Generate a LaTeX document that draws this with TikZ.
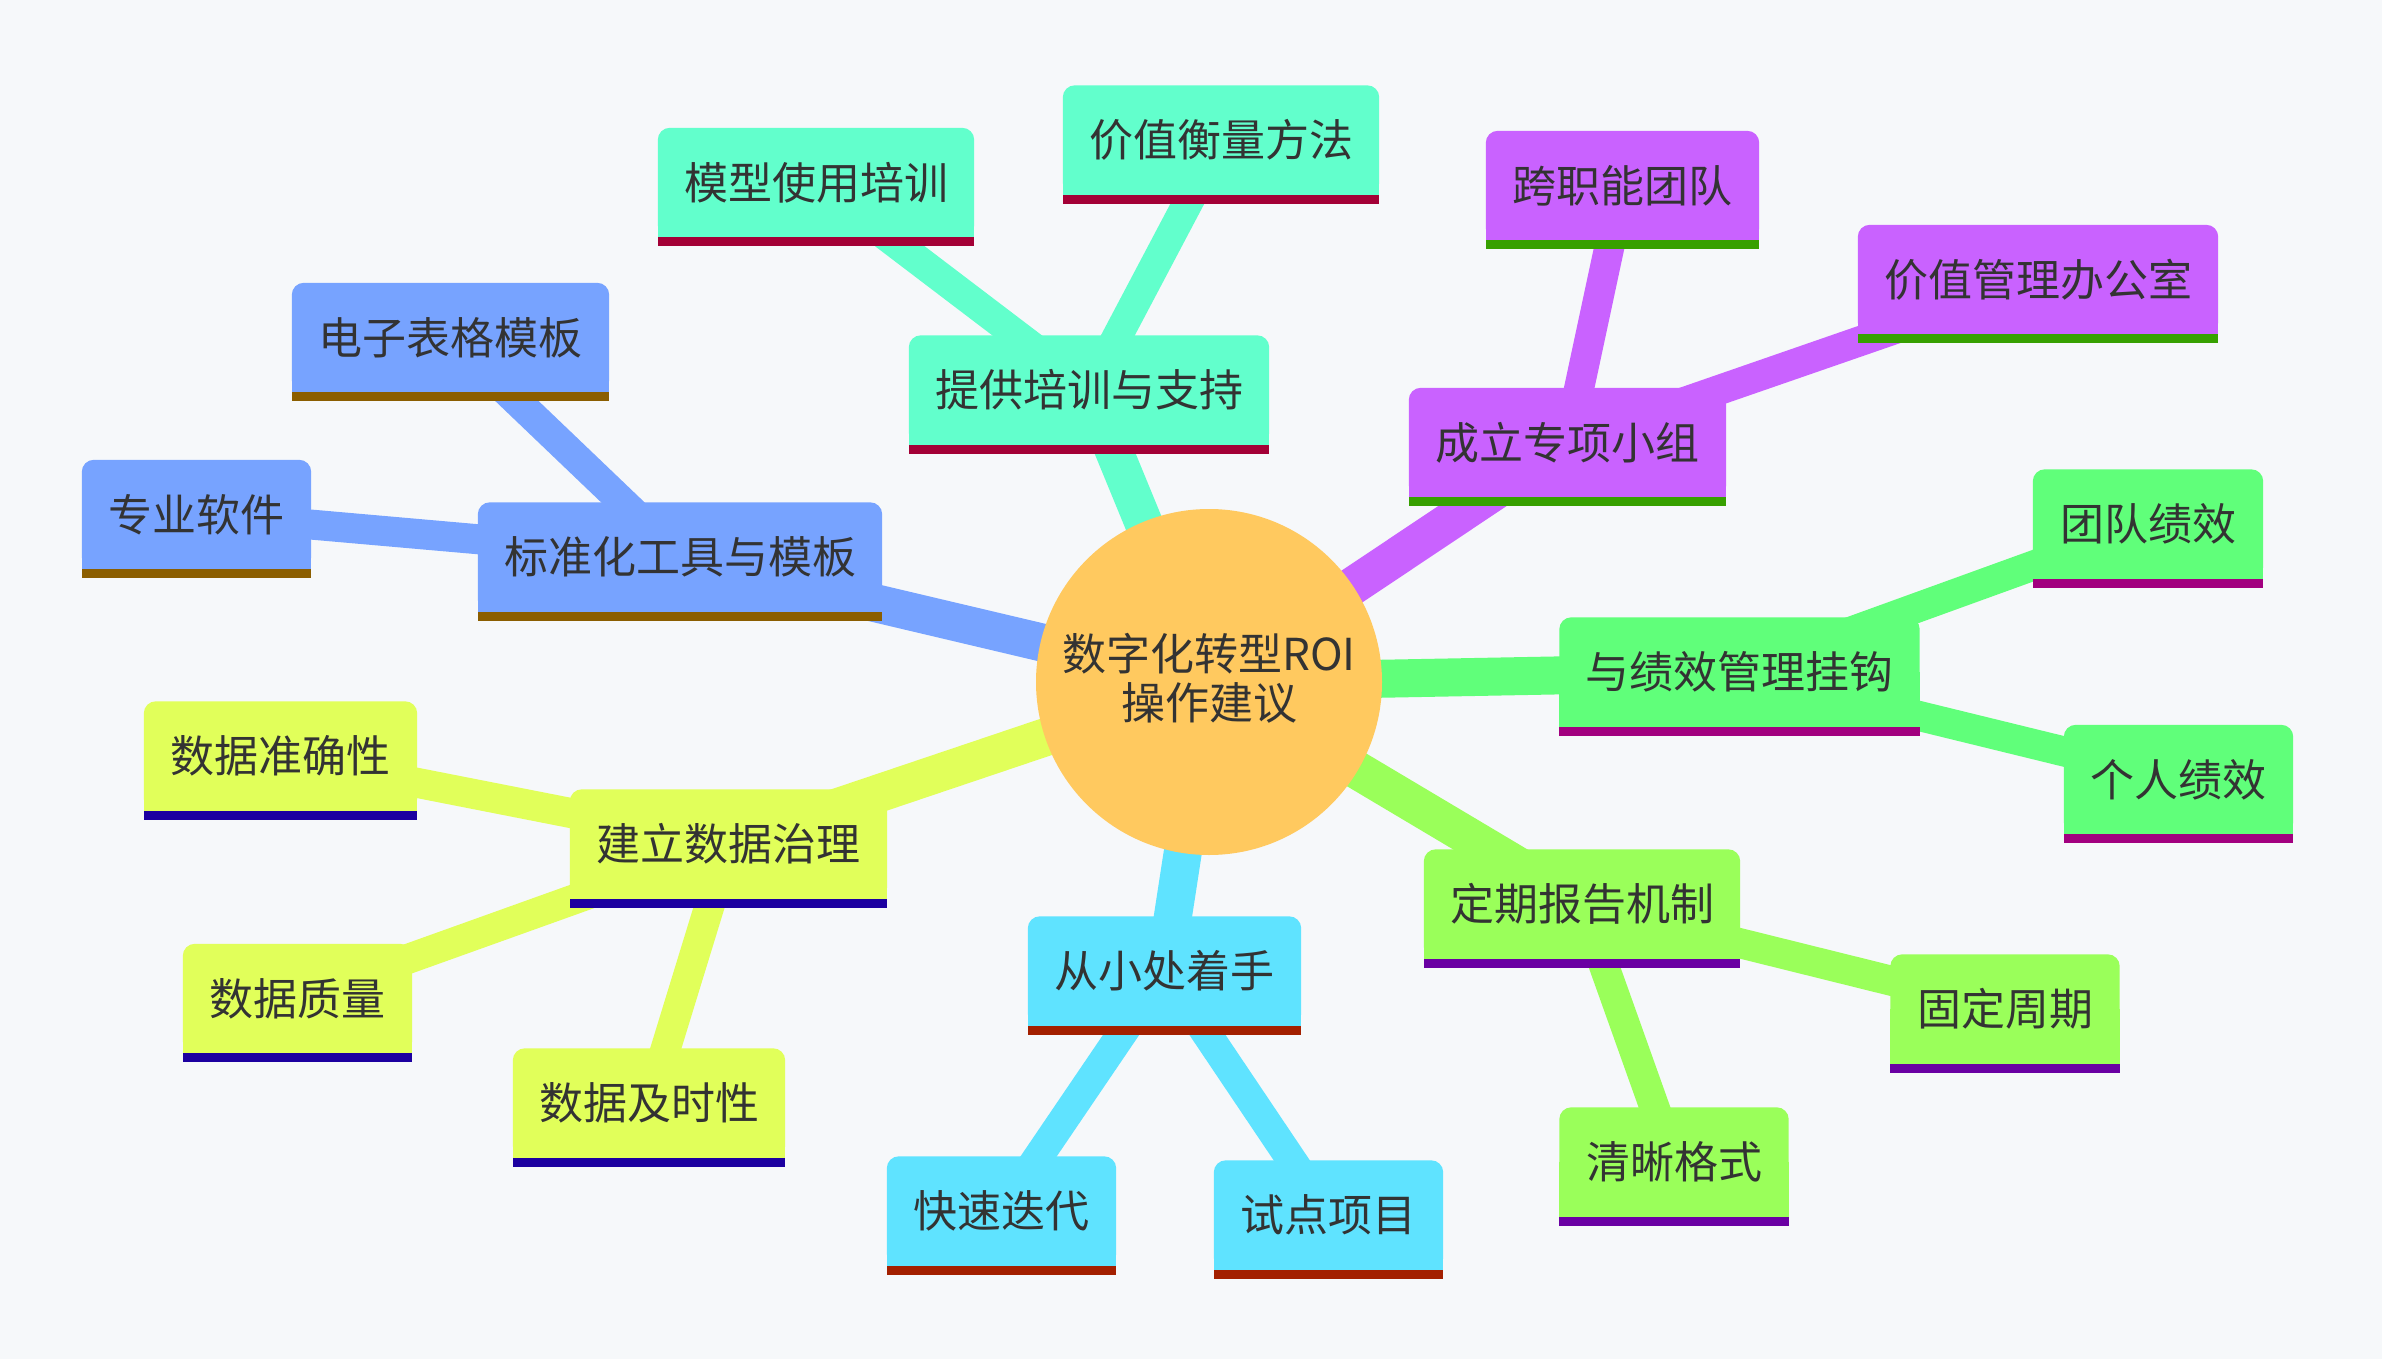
\documentclass[tikz,border=0pt]{standalone}
\usepackage{fontspec}
\setmainfont{Noto Sans CJK SC}
\definecolor{bgc}{HTML}{F6F8FA}
\definecolor{txt}{HTML}{333333}
\definecolor{ctrc}{HTML}{FFC95F}
\definecolor{fblue}{HTML}{77A3FF}\definecolor{bblue}{HTML}{8B5E00}
\definecolor{fteal}{HTML}{62FFCC}\definecolor{bteal}{HTML}{A30036}
\definecolor{fpurp}{HTML}{C962FF}\definecolor{bpurp}{HTML}{37A000}
\definecolor{fgreen}{HTML}{60FF7A}\definecolor{bgreen}{HTML}{A2007F}
\definecolor{fyel}{HTML}{E1FF5A}\definecolor{byel}{HTML}{1C00A0}
\definecolor{fcyan}{HTML}{5FE3FF}\definecolor{bcyan}{HTML}{A32000}
\definecolor{flime}{HTML}{9AFF5A}\definecolor{blime}{HTML}{6A00A3}
\pgfdeclarelayer{links}\pgfdeclarelayer{boxes}
\pgfsetlayers{links,boxes,main}
\begin{document}
\begin{tikzpicture}[x=1pt,y=-1pt,
  mmbox/.style={inner sep=0pt, minimum height=109pt, minimum width=#1pt, text=txt, font=\fontsize{44}{49}\selectfont},
  mainlink/.style={line width=38pt},
  sublink/.style={line width=30pt}]
\useasboundingbox (0,0) rectangle (2382,1359);
% centre
\node[circle, fill=ctrc, minimum size=346pt, inner sep=0pt] (ctr) at (1209,682) {};
\node[align=center, text=txt, inner sep=0pt,
      font=\fontsize{44}{49}\selectfont] (ctrtext) at (1209,678) {数字化转型ROI\\操作建议};
% main nodes
\node[mmbox=404] (std) at (680,557) {标准化工具与模板};
\node[mmbox=360] (trn) at (1089,390) {提供培训与支持};
\node[mmbox=317] (grp) at (1567.5,442.5) {成立专项小组};
\node[mmbox=360] (prf) at (1739.5,672) {与绩效管理挂钩};
\node[mmbox=316] (rep) at (1582,904) {定期报告机制};
\node[mmbox=273] (sml) at (1164.5,971) {从小处着手};
\node[mmbox=317] (gov) at (728.5,844) {建立数据治理};
% sub nodes
\node[mmbox=317] (xls) at (450.5,337.5) {电子表格模板};
\node[mmbox=229] (sw) at (196.5,514.5) {专业软件};
\node[mmbox=316] (mdl) at (816,182.5) {模型使用培训};
\node[mmbox=316] (val) at (1221,140) {价值衡量方法};
\node[mmbox=273] (xfn) at (1622.5,185.5) {跨职能团队};
\node[mmbox=360] (vmo) at (2038,279.5) {价值管理办公室};
\node[mmbox=230] (tp) at (2148,524) {团队绩效};
\node[mmbox=229] (ip) at (2178.5,779.5) {个人绩效};
\node[mmbox=229] (fix) at (2005,1009) {固定周期};
\node[mmbox=229] (clr) at (1674,1162) {清晰格式};
\node[mmbox=229] (itr) at (1001.5,1211) {快速迭代};
\node[mmbox=229] (pil) at (1328.5,1215) {试点项目};
\node[mmbox=273] (acc) at (280.5,756) {数据准确性};
\node[mmbox=229] (qly) at (297.5,998.5) {数据质量};
\node[mmbox=272] (tml) at (649,1103) {数据及时性};
% box fills
\begin{pgfonlayer}{boxes}
\foreach \n/\f/\b in {std/fblue/bblue, xls/fblue/bblue, sw/fblue/bblue,
  trn/fteal/bteal, mdl/fteal/bteal, val/fteal/bteal,
  grp/fpurp/bpurp, xfn/fpurp/bpurp, vmo/fpurp/bpurp,
  prf/fgreen/bgreen, tp/fgreen/bgreen, ip/fgreen/bgreen,
  rep/flime/blime, fix/flime/blime, clr/flime/blime,
  sml/fcyan/bcyan, itr/fcyan/bcyan, pil/fcyan/bcyan,
  gov/fyel/byel, acc/fyel/byel, qly/fyel/byel, tml/fyel/byel}{
  \fill[\f, rounded corners=12pt] (\n.south west) rectangle (\n.north east);
  \fill[\f] (\n.south west) rectangle (\n.east);
  \fill[\b] (\n.south west) rectangle ([yshift=-9pt]\n.south east);
}
\end{pgfonlayer}
% links
\begin{pgfonlayer}{links}
\fill[bgc] (0,0) rectangle (2382,1359);
\foreach \a/\c in {std/fblue, trn/fteal, grp/fpurp, prf/fgreen, rep/flime, sml/fcyan, gov/fyel}
  \draw[mainlink, \c] (ctr.center) -- (\a.center);
\foreach \a/\b/\c in {std/xls/fblue, std/sw/fblue, trn/mdl/fteal, trn/val/fteal,
  grp/xfn/fpurp, grp/vmo/fpurp, prf/tp/fgreen, prf/ip/fgreen,
  rep/fix/flime, rep/clr/flime, sml/itr/fcyan, sml/pil/fcyan,
  gov/acc/fyel, gov/qly/fyel, gov/tml/fyel}
  \draw[sublink, \c] (\a.center) -- (\b.center);
\end{pgfonlayer}
\end{tikzpicture}
\end{document}
